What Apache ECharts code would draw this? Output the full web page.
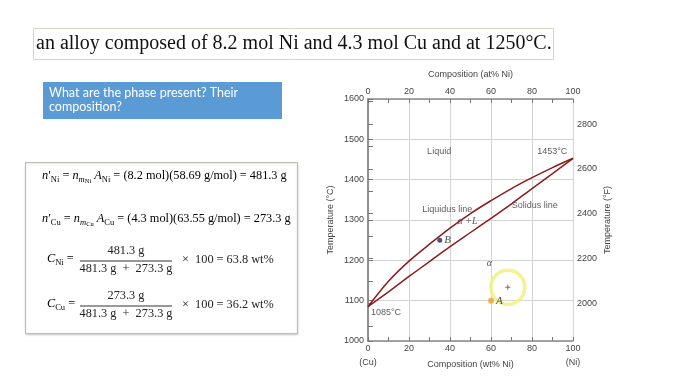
<!DOCTYPE html>
<html><head><meta charset="utf-8">
<script src="https://cdn.jsdelivr.net/npm/echarts@6/dist/echarts.min.js"></script>
<style>html,body{margin:0;padding:0;background:#fff}#c{width:686px;height:386px}</style>
</head><body><div id="c"></div>
<script>
// ---- data ----
const wtPct      = [0, 10, 20, 30, 40, 50, 60, 70, 80, 90, 100];
const liquidusC  = [1085, 1148, 1198, 1240, 1280, 1316, 1348, 1378, 1405, 1430, 1453];
const solidusC   = [1085, 1122, 1160, 1197, 1234, 1269, 1304, 1340, 1378, 1415, 1453];
const pointB     = [35, 1250];
const pointA     = [60, 1100];
const circleMark = [68.2, 1133];
const tempFLabels = [2000, 2200, 2400, 2600, 2800];
const tempFTicks  = [1900, 2000, 2100, 2200, 2300, 2400, 2500, 2600, 2700, 2800, 2900];
const annoText = ['Liquid', '1453°C', 'Liquidus line', 'Solidus line', '1085°C'];
const annoPos  = [[34.7, 1469], [89.9, 1469], [38.7, 1325], [81.3, 1335], [8.8, 1070]];
const greekText = ['α +L', 'α'];
const greekPos  = [[48.5, 1296], [59.2, 1193]];

const toF = c => c * 9 / 5 + 32;
const SANS = "'Liberation Sans', Arial, sans-serif";
const SERIF = "'Liberation Serif', 'Times New Roman', serif";
const axisCol = '#8a8a8a';
const txtCol = '#444';
const FS = 12.3;

const chart = echarts.init(document.getElementById('c'), null, {renderer: 'canvas'});

const xAxisBase = (pos) => ({
  type: 'value', position: pos, min: 0, max: 100, interval: 20,
  axisLine: {show: true, onZero: false, lineStyle: {color: axisCol, width: 1.5}},
  axisTick: {show: true, inside: true, length: 4, lineStyle: {color: '#777'}},
  minorTick: {show: true, splitNumber: 2, length: 4, lineStyle: {color: '#777'}},
  axisLabel: {show: true, fontSize: 9, color: txtCol, fontFamily: SANS, margin: 3},
  splitLine: {show: pos === 'bottom', lineStyle: {color: '#d4d4d4', width: 1}},
  minorSplitLine: {show: false}
});

const rich = {
  r:  {fontFamily: SERIF, fontSize: FS, color: '#222', lineHeight: 18},
  i:  {fontFamily: SERIF, fontSize: FS, fontStyle: 'italic', color: '#222', lineHeight: 18},
  sub: {fontFamily: SERIF, fontSize: 8.5, color: '#222', lineHeight: 9, padding: [7, 0, 0, 0]},
  isub: {fontFamily: SERIF, fontSize: 8.5, fontStyle: 'italic', color: '#222', lineHeight: 9, padding: [7, 0, 0, 0]},
  ssub: {fontFamily: SERIF, fontSize: 6.5, color: '#222', lineHeight: 7, padding: [11, 0, 0, 0]}
};

function fracGroup(label, num, den, result, y) {
  return [
    {type: 'text', left: 47, top: y - 10, style: {text: '{i|C}{sub|' + label + '}{r| =}', rich: rich}},
    {type: 'text', x: 126, y: y - 10, style: {text: num, font: FS + 'px ' + SERIF, fill: '#222', align: 'center', verticalAlign: 'middle'}},
    {type: 'line', shape: {x1: 80, y1: y, x2: 172, y2: y}, style: {stroke: '#333', lineWidth: 1}},
    {type: 'text', x: 126, y: y + 8, style: {text: den, font: FS + 'px ' + SERIF, fill: '#222', align: 'center', verticalAlign: 'middle'}},
    {type: 'text', x: 182, y: y - 1, style: {text: result, font: FS + 'px ' + SERIF, fill: '#222', verticalAlign: 'middle'}}
  ];
}

const option = {
  backgroundColor: '#fff',
  animation: false,
  grid: {left: 368, top: 99, width: 205, height: 242, containLabel: false},
  xAxis: [
    Object.assign(xAxisBase('bottom'), {name: 'Composition (wt% Ni)', nameLocation: 'middle', nameGap: 19,
      nameTextStyle: {fontSize: 9, color: txtCol, fontFamily: SANS}}),
    Object.assign(xAxisBase('top'), {name: 'Composition (at% Ni)', nameLocation: 'middle', nameGap: 20,
      nameTextStyle: {fontSize: 9, color: txtCol, fontFamily: SANS}})
  ],
  yAxis: [
    {type: 'value', position: 'left', min: 1000, max: 1600, interval: 100,
     name: 'Temperature (°C)', nameLocation: 'middle', nameGap: 33, nameRotate: 90,
     nameTextStyle: {fontSize: 9, color: txtCol, fontFamily: SANS},
     axisLine: {show: true, lineStyle: {color: axisCol, width: 1.5}},
     axisTick: {show: true, inside: true, length: 5, lineStyle: {color: '#777'}},
     axisLabel: {fontSize: 9, color: txtCol, fontFamily: SANS, margin: 4, formatter: v => String(v)},
     splitLine: {show: true, lineStyle: {color: '#d4d4d4', width: 1}}},
    {type: 'value', position: 'right', min: toF(1000), max: toF(1600),
     name: 'Temperature (°F)', nameLocation: 'middle', nameGap: 30, nameRotate: 90,
     nameTextStyle: {fontSize: 9, color: txtCol, fontFamily: SANS},
     axisLine: {show: true, lineStyle: {color: axisCol, width: 1.5}},
     axisTick: {show: true, inside: false, length: 5, customValues: tempFTicks, lineStyle: {color: '#777'}},
     axisLabel: {fontSize: 9, color: txtCol, fontFamily: SANS, margin: 4, customValues: tempFLabels, formatter: v => String(v)},
     splitLine: {show: false}}
  ],
  series: [
    {type: 'line', name: 'Liquidus', smooth: 0.35, symbol: 'none', xAxisIndex: 0, yAxisIndex: 0,
     lineStyle: {color: '#8b1c1c', width: 1.5}, data: wtPct.map((w, k) => [w, liquidusC[k]])},
    {type: 'line', name: 'Solidus', smooth: 0.35, symbol: 'none', xAxisIndex: 0, yAxisIndex: 0,
     lineStyle: {color: '#8b1c1c', width: 1.5}, data: wtPct.map((w, k) => [w, solidusC[k]])},
    {type: 'scatter', name: 'circle', symbol: 'circle', symbolSize: 34, silent: true,
     itemStyle: {color: 'rgba(0,0,0,0)', borderColor: '#f1ef78', borderWidth: 3.5},
     data: [circleMark]},
    {type: 'scatter', name: 'cross', symbol: 'path://M4,0H6V4H10V6H6V10H4V6H0V4H4Z', symbolSize: 5,
     itemStyle: {color: '#b0201c'}, data: [circleMark]},
    {type: 'scatter', name: 'B', symbolSize: 5, itemStyle: {color: '#1d2a5c'},
     label: {show: true, position: 'right', distance: 2, formatter: 'B', fontFamily: SERIF, fontStyle: 'italic', fontSize: 11, color: '#222'},
     data: [pointB]},
    {type: 'scatter', name: 'A', symbolSize: 6, itemStyle: {color: '#f0a030'},
     label: {show: true, position: 'right', distance: 2, formatter: 'A', fontFamily: SERIF, fontStyle: 'italic', fontSize: 11, color: '#222'},
     data: [pointA]},
    {type: 'scatter', name: 'anno', symbolSize: 0, silent: true,
     label: {show: true, position: 'inside', formatter: p => annoText[p.dataIndex], fontSize: 9, color: '#333', fontFamily: SANS},
     data: annoPos},
    {type: 'scatter', name: 'greek', symbolSize: 0, silent: true,
     label: {show: true, position: 'inside', formatter: p => greekText[p.dataIndex], fontSize: 10, fontStyle: 'italic', color: '#333', fontFamily: SERIF},
     data: greekPos}
  ],
  graphic: [
    {type: 'rect', shape: {x: 33.5, y: 28.5, width: 520, height: 31}, style: {fill: '#fff', stroke: '#d6d6c2', lineWidth: 1}},
    {type: 'text', x: 36, y: 44, style: {text: 'an alloy composed of 8.2 mol Ni and 4.3 mol Cu and at 1250°C.', font: '20px ' + SERIF, fill: '#111', verticalAlign: 'middle'}},
    {type: 'rect', shape: {x: 43, y: 82, width: 239, height: 37}, style: {fill: '#5b9bd5'}},
    {type: 'text', x: 49, y: 93, style: {text: 'What are the phase present? Their', font: '12.5px Lato, sans-serif', fill: '#fff', verticalAlign: 'middle'}},
    {type: 'text', x: 49, y: 107, style: {text: 'composition?', font: '12.5px Lato, sans-serif', fill: '#fff', verticalAlign: 'middle'}},
    {type: 'rect', shape: {x: 25.5, y: 162.5, width: 272, height: 171}, style: {fill: '#fff', stroke: '#bdbdb5', lineWidth: 1, shadowBlur: 2, shadowColor: 'rgba(0,0,0,0.15)', shadowOffsetY: 1}},
    {type: 'text', left: 42, top: 167, style: {text: '{i|n}{r|′}{sub|Ni}{r| = }{i|n}{isub|m}{ssub|Ni}{r| }{i|A}{sub|Ni}{r| = (8.2 mol)(58.69 g/mol) = 481.3 g}', rich: rich}},
    {type: 'text', left: 42, top: 210, style: {text: '{i|n}{r|′}{sub|Cu}{r| = }{i|n}{isub|m}{ssub|Cu}{r| }{i|A}{sub|Cu}{r| = (4.3 mol)(63.55 g/mol) = 273.3 g}', rich: rich}}
  ].concat(fracGroup('Ni', '481.3 g', '481.3 g  +  273.3 g', '×  100 = 63.8 wt%', 261))
   .concat(fracGroup('Cu', '273.3 g', '481.3 g  +  273.3 g', '×  100 = 36.2 wt%', 306))
};
chart.setOption(option);

const pCu = chart.convertToPixel({xAxisIndex: 0, yAxisIndex: 0}, [0, 1000]);
const pNi = chart.convertToPixel({xAxisIndex: 0, yAxisIndex: 0}, [100, 1000]);
chart.setOption({graphic: option.graphic.concat([
  {type: 'text', x: pCu[0], y: pCu[1] + 22, style: {text: '(Cu)', font: '9px ' + SANS, fill: txtCol, align: 'center', verticalAlign: 'middle'}},
  {type: 'text', x: pNi[0], y: pNi[1] + 22, style: {text: '(Ni)', font: '9px ' + SANS, fill: txtCol, align: 'center', verticalAlign: 'middle'}}
])});
</script></body></html>
